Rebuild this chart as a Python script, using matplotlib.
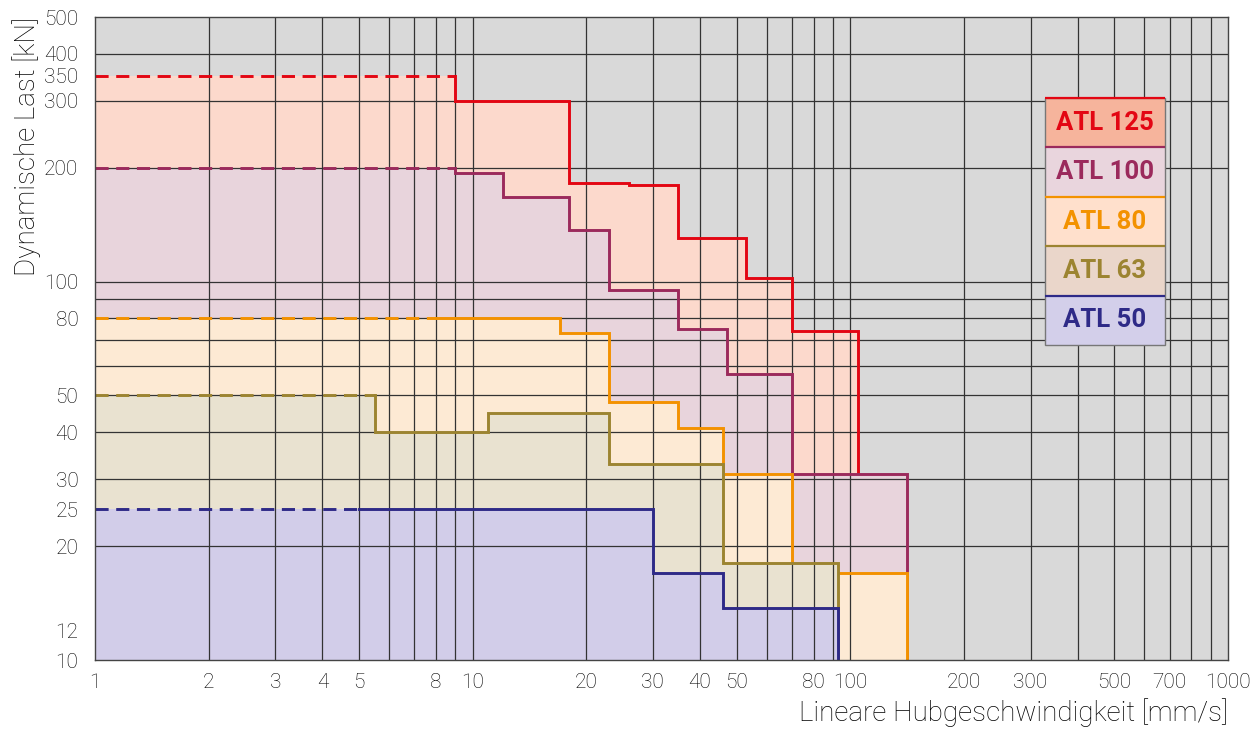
import matplotlib
matplotlib.use("Agg")
import matplotlib.pyplot as plt
from matplotlib.patches import Rectangle, Polygon
from matplotlib.ticker import NullFormatter

plt.rcParams['font.family'] = ['Roboto', 'DejaVu Sans']

# data
names = ["ATL 125", "ATL 100", "ATL 80", "ATL 63", "ATL 50"]
line_colors = ["#e30613", "#9b2a5c", "#f39200", "#9c8431", "#2e2a87"]
fill_colors = ["#fcd9cc", "#e8d4dc", "#fdead4", "#e9e2d0", "#d2cde9"]
legend_fills = ["#f6b49c", "#e9d5dd", "#ffe0cc", "#ead6ca", "#d3cfea"]

dash_level = [350, 200, 80, 50, 25]
edges_125 = [9, 18, 26, 35, 53, 70, 105]
levels_125 = [300, 182, 180, 130, 102, 74]
edges_100 = [9, 12, 18, 23, 35, 47, 70, 141]
levels_100 = [193, 167, 137, 95, 75, 57, 31]
edges_80 = [8, 17, 23, 35, 46, 70, 141]
levels_80 = [80, 73, 48, 41, 31, 17]
edges_63 = [5.5, 11, 23, 46, 93]
levels_63 = [40, 45, 33, 18]
edges_50 = [5, 30, 46, 93]
levels_50 = [25, 17, 13.7]
drop_to = [31, 10, 10, 10, 10]

all_edges = [edges_125, edges_100, edges_80, edges_63, edges_50]
all_levels = [levels_125, levels_100, levels_80, levels_63, levels_50]

x_labeled = [1, 2, 3, 4, 5, 8, 10, 20, 30, 40, 50, 80, 100, 200, 300, 500, 700, 1000]
x_grid = [2, 3, 4, 5, 6, 7, 8, 9, 10, 20, 30, 40, 50, 60, 70, 80, 90, 100,
          200, 300, 400, 500, 600, 700, 800, 900]
y_labeled = [10, 12, 20, 25, 30, 40, 50, 80, 100, 200, 300, 350, 400, 500]
y_grid = [20, 30, 40, 50, 60, 70, 80, 90, 100, 200, 300, 400]


def step_value(i, x):
    # height of series i at x (0 outside its range)
    edges = all_edges[i]
    if x < 1 or x >= edges[-1]:
        return 0
    if x < edges[0]:
        return dash_level[i]
    for k in range(len(all_levels[i])):
        if edges[k] <= x < edges[k + 1]:
            return all_levels[i][k]
    return 0


def uncovered_region(i):
    # area above the outline of all series drawn after series i
    later = range(i + 1, len(names))
    bps = sorted(set([1, 1000] + [e for j in later for e in all_edges[j]]))
    verts = []
    for a, b in zip(bps[:-1], bps[1:]):
        mid = (a * b) ** 0.5
        h = max([step_value(j, mid) for j in later] + [1])
        verts += [(a, h), (b, h)]
    verts += [(1000, 1e5), (1, 1e5)]
    return verts


fig = plt.figure(figsize=(12.55, 7.31), dpi=100)
ax = fig.add_axes([0.0757, 0.0971, 0.9028, 0.8796])
ax.set_facecolor("#d9d9d9")
ax.set_xscale("log")
ax.set_yscale("log")
ax.set_xlim(1, 1000)
ax.set_ylim(10, 500)

for i in range(len(names)):
    edges = all_edges[i]
    levels = all_levels[i]
    fx = [1] + edges
    fy = [dash_level[i]] + levels + [levels[-1]]
    ax.fill_between(fx, 10, fy, step="post", color=fill_colors[i], zorder=1 + i * 0.1, lw=0)

    clip = Polygon(uncovered_region(i), closed=True, transform=ax.transData)
    dashed, = ax.plot([1, edges[0]], [dash_level[i], dash_level[i]], color=line_colors[i],
                      lw=2.1, linestyle=(0, (4.5, 2.6)), zorder=3 + i * 0.1)
    px, py = [edges[0]], [dash_level[i]]
    for j, lv in enumerate(levels):
        px += [edges[j], edges[j + 1]]
        py += [lv, lv]
    px.append(edges[-1])
    py.append(drop_to[i])
    solid, = ax.plot(px, py, color=line_colors[i], lw=2.1, zorder=3 + i * 0.1,
                     solid_joinstyle="miter")
    solid.set_clip_path(clip)

ax.set_xticks(x_labeled, labels=[str(v) for v in x_labeled])
ax.set_xticks(x_grid, minor=True)
ax.set_yticks(y_labeled, labels=[str(v) for v in y_labeled])
ax.set_yticks(y_grid, minor=True)
ax.xaxis.set_minor_formatter(NullFormatter())
ax.yaxis.set_minor_formatter(NullFormatter())
ax.xaxis.remove_overlapping_locs = False
ax.yaxis.remove_overlapping_locs = False
ax.set_axisbelow(False)
ax.grid(True, which="minor", color="#333333", lw=0.9)
ax.grid(False, which="major")
ax.tick_params(which="both", length=0, labelsize=15, colors="#000000")
ax.tick_params(axis="y", pad=12)
ax.tick_params(axis="x", pad=9)
for lbl in ax.get_xticklabels() + ax.get_yticklabels():
    lbl.set_fontweight("light")
for s in ax.spines.values():
    s.set_color("#444444")
    s.set_linewidth(1.0)
    s.set_zorder(5)

ax.set_xlabel("Lineare Hubgeschwindigkeit [mm/s]", fontsize=20, loc="right",
              color="#000000", labelpad=5, fontweight="light")
ax.set_ylabel("Dynamische Last [kN]", fontsize=20, loc="top", color="#000000",
              labelpad=2, fontweight="light")

# legend boxes
lx0, lx1 = 0.8385, 0.9444
ly_top, ly_bot = 0.874, 0.490
rh = (ly_top - ly_bot) / len(names)
for i in range(len(names)):
    y0 = ly_top - (i + 1) * rh
    ax.add_patch(Rectangle((lx0, y0), lx1 - lx0, rh, transform=ax.transAxes,
                           facecolor=legend_fills[i], edgecolor="none", zorder=6))
    ax.plot([lx0, lx1], [y0 + rh, y0 + rh], transform=ax.transAxes,
            color=line_colors[i], lw=1.6, zorder=7, solid_capstyle="butt")
    ax.text((lx0 + lx1) / 2, y0 + rh / 2, names[i], transform=ax.transAxes,
            ha="center", va="center", fontsize=18.5, fontweight="bold",
            color=line_colors[i], zorder=8)
ax.add_patch(Rectangle((lx0, ly_bot), lx1 - lx0, ly_top - ly_bot, transform=ax.transAxes,
                       facecolor="none", edgecolor="#777777", lw=1.0, zorder=6.5))

fig.savefig("out.png", dpi=100)
